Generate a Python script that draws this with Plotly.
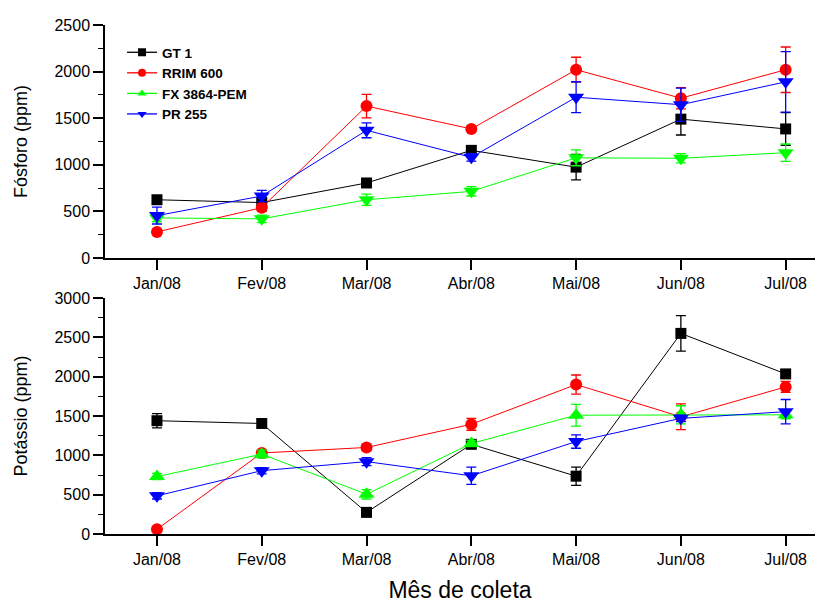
import plotly.graph_objects as go

# Sampling months
months = ["Jan/08", "Fev/08", "Mar/08", "Abr/08", "Mai/08", "Jun/08", "Jul/08"]

# Phosphorus (ppm) per clone, with standard errors
p_gt1 = [625, 595, 805, 1155, 975, 1490, 1385]
p_gt1_err = [40, 30, 40, 40, 137, 170, 175]
p_rrim = [280, 540, 1630, 1385, 2020, 1715, 2020]
p_rrim_err = [30, 40, 126, 30, 134, 114, 244]
p_fx = [430, 420, 625, 715, 1075, 1070, 1130]
p_fx_err = [40, 40, 60, 50, 85, 50, 93]
p_pr = [455, 665, 1370, 1080, 1725, 1645, 1890]
p_pr_err = [90, 60, 80, 40, 166, 178, 324]

# Potassium (ppm) per clone, with standard errors
k_gt1 = [1440, 1405, 275, 1140, 735, 2550, 2035]
k_gt1_err = [91, 50, 30, 40, 116, 225, 40]
k_rrim = [60, 1030, 1100, 1395, 1900, 1490, 1870]
k_rrim_err = [20, 40, 40, 76, 121, 163, 70]
k_fx = [730, 1015, 505, 1150, 1510, 1515, 1515]
k_fx_err = [40, 50, 60, 40, 138, 115, 50]
k_pr = [485, 805, 920, 740, 1175, 1470, 1555]
k_pr_err = [40, 40, 50, 110, 85, 40, 155]

clones = ["GT 1", "RRIM 600", "FX 3864-PEM", "PR 255"]
colors = ["#000000", "#ff0000", "#00ff00", "#0000ff"]
top_symbols = ["square", "circle", "triangle-down", "triangle-down"]
bottom_symbols = ["square", "circle", "triangle-up", "triangle-down"]
legend_symbols = ["square", "circle", "triangle-up", "triangle-down"]
marker_sizes = {"square": 11, "circle": 12, "triangle-up": 14, "triangle-down": 14}

top_data = [(p_gt1, p_gt1_err), (p_rrim, p_rrim_err), (p_fx, p_fx_err), (p_pr, p_pr_err)]
bottom_data = [(k_gt1, k_gt1_err), (k_rrim, k_rrim_err), (k_fx, k_fx_err), (k_pr, k_pr_err)]

x_idx = list(range(len(months)))

fig = go.Figure()


def add_series(vals, errs, name, color, sym, xa, ya):
    fig.add_trace(go.Scatter(
        x=x_idx, y=vals, mode="lines+markers", name=name,
        line=dict(color=color, width=1),
        marker=dict(symbol=sym, size=marker_sizes[sym], color=color),
        error_y=dict(type="data", array=errs, visible=True, color=color,
                     thickness=1.3, width=5),
        xaxis=xa, yaxis=ya, showlegend=False,
    ))


for name, color, sym, (vals, errs) in zip(clones, colors, top_symbols, top_data):
    add_series(vals, errs, name, color, sym, "x", "y")

for name, color, sym, (vals, errs) in zip(clones, colors, bottom_symbols, bottom_data):
    add_series(vals, errs, name, color, sym, "x2", "y2")

# Legend entries (small symbols on a line sample)
for name, color, sym in zip(clones, colors, legend_symbols):
    fig.add_trace(go.Scatter(
        x=[None], y=[None], mode="lines+markers", name=name,
        line=dict(color=color, width=1.3),
        marker=dict(symbol=sym, size=8, color=color),
        xaxis="x", yaxis="y", showlegend=True,
    ))

W, H = 817, 603
L, R = 105, 2
font_family = "Liberation Sans, Arial, sans-serif"

xcommon = dict(
    range=[-0.496, 6.28], tickmode="array", tickvals=x_idx, ticktext=months,
    showline=True, linecolor="black", linewidth=1.5, mirror=False,
    ticks="outside", ticklen=10, tickwidth=1.5, tickcolor="black",
    showgrid=False, zeroline=False, automargin=False,
    tickfont=dict(family=font_family, size=16, color="black"),
)
ycommon = dict(
    showline=True, linecolor="black", linewidth=1.5, mirror=False,
    ticks="outside", ticklen=10, tickwidth=1.5, tickcolor="black",
    showgrid=False, zeroline=False, dtick=500, automargin=False,
    tickfont=dict(family=font_family, size=16, color="black"),
    minor=dict(ticks="outside", ticklen=5, tickwidth=1.2, tickcolor="black", dtick=250),
)

fig.update_layout(
    width=W, height=H,
    margin=dict(l=L, r=R, t=0, b=0),
    paper_bgcolor="white", plot_bgcolor="white",
    font=dict(family=font_family, color="black"),
    xaxis=dict(xcommon, anchor="y", domain=[0, 1]),
    yaxis=dict(ycommon, range=[0, 2500], domain=[(H - 258) / H, (H - 25) / H],
               anchor="x",
               title=dict(text="Fósforo (ppm)", standoff=22,
                          font=dict(family=font_family, size=18, color="black"))),
    xaxis2=dict(xcommon, anchor="y2", domain=[0, 1],
                title=dict(text="Mês de coleta", standoff=26,
                           font=dict(family=font_family, size=23, color="black"))),
    yaxis2=dict(ycommon, range=[0, 3000], domain=[(H - 534) / H, (H - 298) / H],
                anchor="x2",
                title=dict(text="Potássio (ppm)", standoff=22,
                           font=dict(family=font_family, size=18, color="black"))),
    legend=dict(
        x=0.024, y=(H - 37) / H, xanchor="left", yanchor="top",
        yref="paper", bgcolor="rgba(0,0,0,0)",
        font=dict(family=font_family, size=13.5, color="black", weight="bold"),
        tracegroupgap=0, itemwidth=30,
    ),
)

fig.write_html("out.html")
